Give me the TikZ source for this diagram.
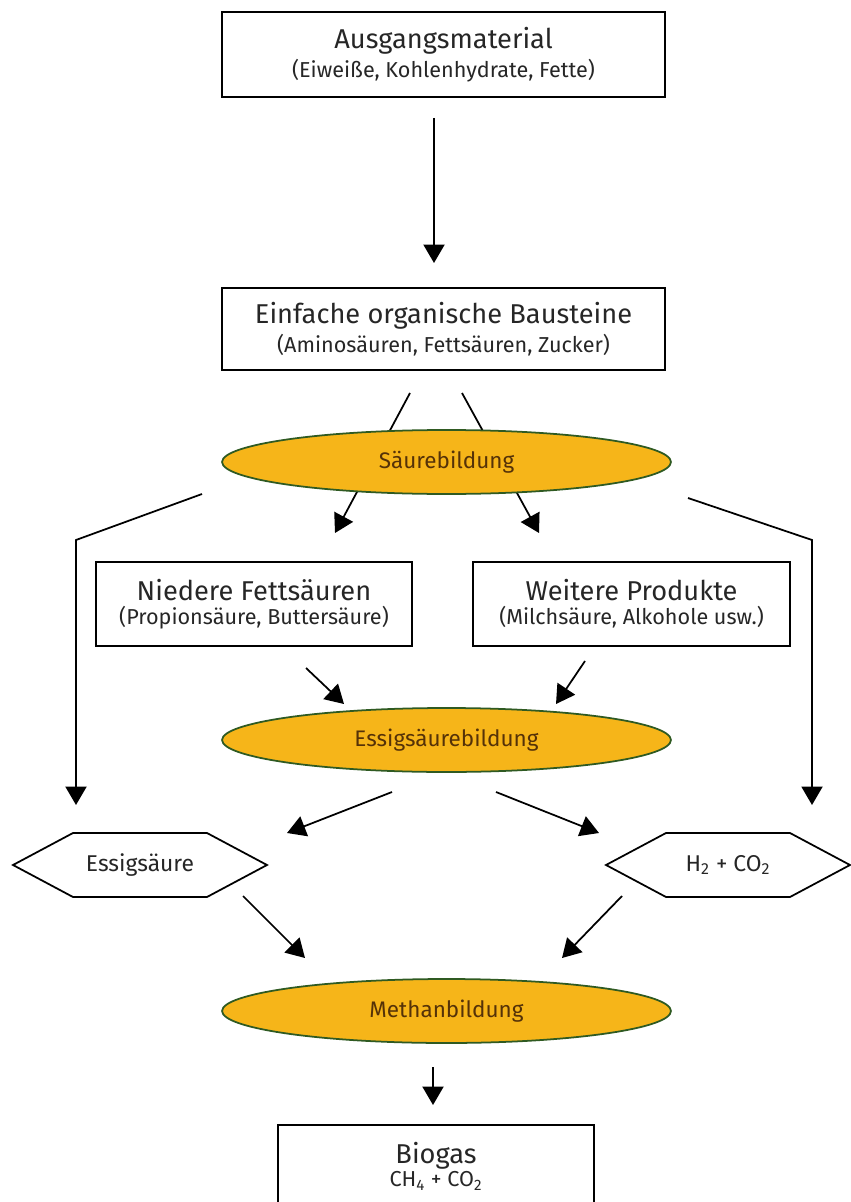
\documentclass[tikz,border=0pt]{standalone}
\usepackage{fontspec}
\setmainfont{Fira Sans}
\usetikzlibrary{shapes,arrows.meta,positioning,calc}
\definecolor{phasefill}{HTML}{F6B519}
\definecolor{phaseline}{HTML}{2F5A22}
\definecolor{phasetext}{HTML}{553208}
\definecolor{boxtext}{HTML}{262626}
\newcommand{\headtxt}{\fontsize{15.5}{18}\selectfont}
\newcommand{\subtxt}{\fontsize{12.3}{14}\selectfont}

\begin{document}
\begin{tikzpicture}[x=0.02cm, y=-0.02cm,
    matbox/.style={draw, line width=1pt, align=center, text=boxtext, inner sep=0pt},
    phase/.style={ellipse, draw=phaseline, line width=1pt, fill=phasefill, minimum width=8.98cm, minimum height=1.28cm, text=phasetext, font=\fontsize{12.8}{14}\selectfont},
    hextxt/.style={text=boxtext, font=\fontsize{13}{15}\selectfont},
    arr/.style={-{Triangle[length=10.5pt,width=12pt]}, line width=1pt}]
    \useasboundingbox (0,0) rectangle (850,1202);

    % Start
    \node[matbox, minimum width=8.86cm, minimum height=1.7cm] (raw) at (443.5,54.5)
        {{\headtxt Ausgangsmaterial}\\[1.5pt]{\subtxt (Eiweiße, Kohlenhydrate, Fette)}};
    \node[matbox, minimum width=8.86cm, minimum height=1.64cm] (simple) at (443.5,329)
        {{\headtxt Einfache organische Bausteine}\\[1.5pt]{\subtxt (Aminosäuren, Fettsäuren, Zucker)}};
    \coordinate (rawout) at (434,118);
    \coordinate (simplein) at (434,263);
    \draw[arr] (rawout) -- (simplein);

    % Acid formation (arrows run behind the ellipse)
    \coordinate (splitl) at (410,393);
    \coordinate (splitr) at (462,393);
    \coordinate (fatin) at (335,533);
    \coordinate (morein) at (539,533);
    \draw[arr] (splitl) -- (fatin);
    \draw[arr] (splitr) -- (morein);
    \node[phase] (acidform) at (446.5,462) {Säurebildung};

    \node[matbox, minimum width=6.32cm, minimum height=1.68cm] (fatty) at (254,604)
        {{\headtxt Niedere Fettsäuren}\\[1.5pt]{\subtxt (Propionsäure, Buttersäure)}};
    \node[matbox, minimum width=6.34cm, minimum height=1.68cm] (other) at (631.5,604)
        {{\headtxt Weitere Produkte}\\[1.5pt]{\subtxt (Milchsäure, Alkohole usw.)}};

    % Side paths
    \coordinate (sidel) at (202,494);
    \coordinate (bendl) at (76,540);
    \coordinate (acetin) at (76,805);
    \coordinate (sider) at (688,498);
    \coordinate (bendr) at (812,540);
    \coordinate (gasin) at (812,805);
    \draw[arr] (sidel) -- (bendl) -- (acetin);
    \draw[arr] (sider) -- (bendr) -- (gasin);

    % Acetic acid formation
    \node[phase] (aceticform) at (446.5,740) {Essigsäurebildung};
    \coordinate (fatout) at (306,668);
    \coordinate (fattip) at (344,704);
    \coordinate (otherout) at (585,661);
    \coordinate (othertip) at (556,704);
    \draw[arr] (fatout) -- (fattip);
    \draw[arr] (otherout) -- (othertip);

    \draw[line width=1pt] (13,865) -- (73,833) -- (207,833) -- (267,865) -- (207,897) -- (73,897) -- cycle;
    \node[hextxt] (acet) at (140,865) {Essigsäure};
    \draw[line width=1pt] (606,865) -- (666,833) -- (790,833) -- (850,865) -- (790,897) -- (666,897) -- cycle;
    \node[hextxt] (hgas) at (728,865) {H\textsubscript{2} + CO\textsubscript{2}};

    \coordinate (aceticl) at (392,792);
    \coordinate (aceticlt) at (287,833);
    \coordinate (aceticr) at (496,792);
    \coordinate (aceticrt) at (599,833);
    \draw[arr] (aceticl) -- (aceticlt);
    \draw[arr] (aceticr) -- (aceticrt);

    % Methane formation
    \node[phase] (methform) at (446.5,1011) {Methanbildung};
    \coordinate (acetout) at (243,896);
    \coordinate (acettip) at (305,958);
    \coordinate (hgasout) at (622,896);
    \coordinate (hgastip) at (562,958);
    \draw[arr] (acetout) -- (acettip);
    \draw[arr] (hgasout) -- (hgastip);

    % Biogas
    \coordinate (methout) at (433,1067);
    \coordinate (biotip) at (433,1105);
    \draw[arr] (methout) -- (biotip);
    \draw[line width=1pt] (278,1215) |- (594,1125) -- (594,1215);
    \node[align=center, text=boxtext] (biogas) at (436,1166)
        {{\headtxt Biogas}\\[1.5pt]{\subtxt CH\textsubscript{4} + CO\textsubscript{2}}};
\end{tikzpicture}
\end{document}
